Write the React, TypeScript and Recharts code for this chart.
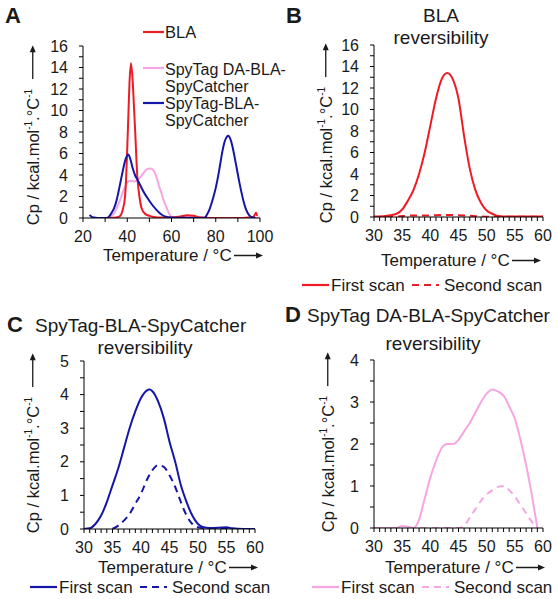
import React from "react";
import { LineChart, Line, XAxis, YAxis } from "recharts";

type Pt = [number, number];

const RED = "#ed1c24";
const PINK = "#f6a6e2";
const BLUE = "#1616a6";
const INK = "#1a1a1a";
const FONT = '"Liberation Sans", Arial, sans-serif';

// ---- Panel A: full DSC scans (temperature °C, Cp kcal/mol/°C)
const blaScan: Pt[] = [
  [30, 0], [34, 0.02], [36, 0.1], [37, 0.25], [38, 0.8], [39, 2], [39.5, 3.8], [40, 6.5],
  [40.5, 9.5], [41, 12.5], [41.7, 14.4], [42.5, 12.6], [43, 10.5], [43.6, 8], [44.5, 4],
  [45.5, 2], [46.5, 0.9], [48, 0.4], [50, 0.2], [52, 0.1], [55, 0.05], [60, 0.05],
  [64, 0.15], [67, 0.25], [70, 0.2], [73, 0.05], [80, 0], [90, 0], [95, 0.05], [97, 0.1],
  [98.2, 0.5], [98.7, 0.2],
];
const spyTagDaScan: Pt[] = [
  [30, 0], [32, 0.1], [34, 0.4], [35, 0.8], [36, 1.3], [37, 1.8], [38, 2.4], [39, 2.9],
  [40, 3.3], [41, 3.45], [42, 3.45], [43, 3.4], [44, 3.45], [45, 3.6], [46, 3.8], [47, 4.1],
  [48, 4.35], [49, 4.55], [50.3, 4.6], [51.5, 4.5], [52.5, 4.2], [53.5, 3.6], [54.5, 2.9],
  [55.5, 2.3], [56.5, 1.6], [57.5, 1.1], [58.5, 0.6], [59.5, 0.2], [61, 0.05], [65, 0.15],
  [70, 0.15], [75, 0.05], [80, 0], [90, 0], [100, 0.05],
];
const spyTagScan: Pt[] = [
  [23, 0.3], [24, 0.1], [25, 0.05], [28, 0], [31, 0], [32, 0.2], [33, 0.5], [34, 0.9],
  [35, 1.5], [36, 2.4], [37, 3.4], [38, 4.4], [39, 5.3], [40.5, 5.9], [41.5, 5.4], [42.5, 4.6],
  [43.5, 4.0], [44.5, 3.6], [46, 3.0], [47.5, 2.4], [49, 1.9], [51, 1.3], [53, 0.8], [55, 0.4],
  [57, 0.15], [60, 0.05], [65, 0.02], [70, 0], [75, 0.02], [76, 0.3], [77, 0.7], [78, 1.3],
  [79, 2.0], [80, 2.8], [81, 3.8], [82, 5.0], [83, 6.2], [84, 7.1], [85, 7.55], [85.7, 7.65],
  [86.5, 7.4], [87.5, 6.7], [88.5, 5.7], [89.5, 4.6], [90.5, 3.5], [91.5, 2.5], [92.5, 1.6],
  [93.5, 0.9], [94.5, 0.45], [96, 0.1], [98, 0],
];

// ---- Panel B: BLA reversibility
const blaFirst: Pt[] = [
  [30, 0.05], [32, 0.1], [34, 0.3], [35, 0.7], [36, 1.5], [37, 2.5], [38, 4], [39, 6],
  [40, 8.5], [41, 11], [42, 12.8], [43, 13.4], [44, 12.8], [45, 11], [46, 7.5], [47, 4.5],
  [48, 2.5], [49, 1.3], [50, 0.6], [51, 0.3], [52, 0.1], [54, 0.05], [60, 0.05],
];
const blaSecond: Pt[] = [
  [30, 0], [34, 0.05], [36, 0.12], [38, 0.15], [40, 0.15], [42, 0.18], [44, 0.18],
  [46, 0.15], [48, 0.08], [50, 0.03], [55, 0.02], [60, 0.02],
];

// ---- Panel C: SpyTag-BLA-SpyCatcher reversibility
const spyTagFirst: Pt[] = [
  [30, 0], [31, 0.02], [32, 0.15], [33, 0.4], [34, 0.8], [35, 1.3], [36, 1.8], [37, 2.4],
  [38, 3.0], [39, 3.5], [40, 3.9], [41, 4.12], [41.5, 4.15], [42, 4.1], [43, 3.8], [44, 3.3],
  [45, 2.6], [46, 2.0], [47, 1.3], [48, 0.8], [49, 0.4], [50, 0.15], [51, 0.05], [52, 0.03],
  [55, 0.05], [56, 0.02], [58, 0], [60, 0],
];
const spyTagSecond: Pt[] = [
  [35, 0], [36, 0.1], [37, 0.25], [38, 0.45], [39, 0.75], [40, 1.05], [41, 1.45], [42, 1.75],
  [43, 1.9], [44, 1.85], [45, 1.6], [46, 1.25], [47, 0.8], [48, 0.4], [49, 0.15], [50, 0.05],
  [52, 0.02], [56, 0.02],
];

// ---- Panel D: SpyTag DA-BLA-SpyCatcher reversibility
const spyTagDaFirst: Pt[] = [
  [30, 0], [34, 0], [35, 0.05], [36, 0.03], [37, 0], [38, 0.2], [39, 0.7], [40, 1.2],
  [41, 1.6], [42, 1.9], [43, 2.0], [44, 2.0], [45, 2.1], [46, 2.3], [47, 2.5], [48, 2.75],
  [49, 3.0], [50, 3.2], [51, 3.3], [52, 3.25], [53, 3.15], [54, 2.9], [55, 2.6], [56, 2.1],
  [57, 1.5], [58, 0.8], [58.5, 0.4], [59, 0],
];
const spyTagDaSecond: Pt[] = [
  [36, 0], [40, 0], [45, 0], [46, 0.05], [47, 0.25], [48, 0.45], [49, 0.65], [50, 0.8],
  [51, 0.9], [52, 0.98], [53, 1.0], [54, 0.9], [55, 0.75], [56, 0.55], [57, 0.35],
  [58, 0.15], [59, 0],
];

const range = (a: number, b: number, s: number) => {
  const out: number[] = [];
  for (let v = a; v <= b + 1e-9; v += s) out.push(Math.round(v * 100) / 100);
  return out;
};

const xTicksA = range(20, 100, 10);
const xMajorA = [20, 40, 60, 80, 100];
const xTicksRev = range(30, 60, 1);
const xMajorRev = [30, 35, 40, 45, 50, 55, 60];
const yTicks16 = range(0, 16, 1);
const yMajor16 = [0, 2, 4, 6, 8, 10, 12, 14, 16];
const yTicks5 = range(0, 5, 0.5);
const yMajor5 = [0, 1, 2, 3, 4, 5];
const yTicks4 = range(0, 4, 0.5);
const yMajor4 = [0, 1, 2, 3, 4];

type Series = { data: Pt[]; color: string; dashed?: boolean };

function xTick(major: number[]) {
  return (p: any) => {
    const v = p.payload.value;
    return (
      <g>
        <line x1={p.x} x2={p.x} y1={p.y} y2={p.y + 4} stroke="#000" strokeWidth={1} />
        {major.includes(v) && (
          <text x={p.x} y={p.y + 18} dy="0.35em" textAnchor="middle" fontSize={16} fill={INK} fontFamily={FONT}>
            {v}
          </text>
        )}
      </g>
    );
  };
}

function yTick(major: number[]) {
  return (p: any) => {
    const v = p.payload.value;
    return (
      <g>
        <line x1={p.x - 4} x2={p.x} y1={p.y} y2={p.y} stroke="#000" strokeWidth={1} />
        {major.includes(v) && (
          <text x={p.x - 15} y={p.y} dy="0.35em" textAnchor="end" fontSize={16} fill={INK} fontFamily={FONT}>
            {v}
          </text>
        )}
      </g>
    );
  };
}

function Panel(props: {
  x: number; y: number; w: number; h: number;
  xDomain: [number, number]; xTicks: number[]; xMajor: number[];
  yDomain: [number, number]; yTicks: number[]; yMajor: number[];
  series: Series[];
}) {
  const yw = 44, xh = 30, pad = 10, padR = 16;
  return (
    <div style={{ position: "absolute", left: props.x - yw, top: props.y - pad }}>
      <LineChart width={yw + props.w + padR} height={pad + props.h + xh} margin={{ top: pad, right: padR, bottom: 0, left: 0 }}>
        <XAxis
          type="number" dataKey="t" domain={props.xDomain} ticks={props.xTicks} interval={0}
          allowDataOverflow height={xh} tickSize={0} tickMargin={0} tickLine={false}
          axisLine={{ stroke: "#000", strokeWidth: 1 }} tick={xTick(props.xMajor)}
        />
        <YAxis
          type="number" domain={props.yDomain} ticks={props.yTicks} interval={0}
          allowDataOverflow width={yw} tickSize={0} tickMargin={0} tickLine={false}
          axisLine={{ stroke: "#000", strokeWidth: 1 }} tick={yTick(props.yMajor)}
        />
        {props.series.map((s, i) => (
          <Line
            key={i}
            data={s.data.map(([t, v]) => ({ t, v }))}
            dataKey="v"
            type="monotone"
            stroke={s.color}
            strokeWidth={2}
            strokeDasharray={s.dashed ? "7 5" : undefined}
            dot={false}
            activeDot={false}
            isAnimationActive={false}
          />
        ))}
      </LineChart>
    </div>
  );
}

function Arrow({ len }: { len: number }) {
  return (
    <svg width={len} height={10} style={{ display: "block" }}>
      <line x1={0} y1={5} x2={len - 5} y2={5} stroke={INK} strokeWidth={1.3} />
      <polygon points={`${len - 7},2 ${len},5 ${len - 7},8`} fill={INK} />
    </svg>
  );
}

function Txt({ x, y, size = 17, bold = false, anchor = "left", lh = 1, children }: any) {
  const tx = anchor === "center" ? "-50%" : "0";
  return (
    <div
      style={{
        position: "absolute", left: x, top: y, transform: `translate(${tx},-50%)`,
        fontSize: size, fontWeight: bold ? 700 : 400, whiteSpace: "nowrap", lineHeight: lh, color: INK,
      }}
    >
      {children}
    </div>
  );
}

const sup = { fontSize: 10, verticalAlign: "super", lineHeight: 0 } as const;

function YLabel({ x, y }: { x: number; y: number }) {
  return (
    <div
      style={{
        position: "absolute", left: x, top: y, transform: "translate(-50%,-50%) rotate(-90deg)",
        display: "flex", alignItems: "center", whiteSpace: "nowrap", fontSize: 16.5, lineHeight: 1, color: INK,
      }}
    >
      <span>
        Cp / kcal.mol<span style={sup}>-1</span>.°C<span style={sup}>-1</span>
      </span>
      <span style={{ marginLeft: 10 }}>
        <Arrow len={34} />
      </span>
    </div>
  );
}

function XLabel({ x, y }: { x: number; y: number }) {
  return (
    <div
      style={{
        position: "absolute", left: x, top: y, transform: "translateY(-50%)",
        display: "flex", alignItems: "center", whiteSpace: "nowrap", fontSize: 17, lineHeight: 1, color: INK,
      }}
    >
      <span>Temperature / °C</span>
      <span style={{ marginLeft: 2 }}>
        <Arrow len={29} />
      </span>
    </div>
  );
}

function Swatch({ x, y, color, w = 22, dashed = false }: any) {
  return (
    <svg style={{ position: "absolute", left: x, top: y - 2 }} width={w} height={4}>
      <line x1={0} y1={2} x2={w} y2={2} stroke={color} strokeWidth={2.2} strokeDasharray={dashed ? "7 5" : undefined} />
    </svg>
  );
}

function ScanLegend({ x, y, color }: { x: number; y: number; color: string }) {
  return (
    <>
      <Swatch x={x} y={y} color={color} w={27} />
      <Txt x={x + 29} y={y}>First scan</Txt>
      <Swatch x={x + 110} y={y} color={color} w={27} dashed />
      <Txt x={x + 142} y={y}>Second scan</Txt>
    </>
  );
}

export default function App() {
  return (
    <div
      style={{
        position: "absolute", left: 0, top: 0, width: 558, height: 599,
        background: "#fff", fontFamily: FONT, overflow: "hidden",
      }}
    >
      {/* Panel A */}
      <Panel
        x={83} y={46} w={177} h={172}
        xDomain={[20, 100]} xTicks={xTicksA} xMajor={xMajorA}
        yDomain={[0, 16]} yTicks={yTicks16} yMajor={yMajor16}
        series={[
          { data: spyTagDaScan, color: PINK },
          { data: blaScan, color: RED },
          { data: spyTagScan, color: BLUE },
        ]}
      />
      <Txt x={5} y={16} size={22} bold>A</Txt>
      <YLabel x={33} y={135} />
      <XLabel x={103} y={255} />
      <Swatch x={143} y={32} color={RED} w={21} />
      <Txt x={165} y={32} size={16.5}>BLA</Txt>
      <Swatch x={143} y={68} color={PINK} w={21} />
      <Txt x={165} y={70} size={16}>SpyTag DA-BLA-</Txt>
      <Txt x={165} y={87} size={16}>SpyCatcher</Txt>
      <Swatch x={143} y={103} color={BLUE} w={21} />
      <Txt x={165} y={104} size={16}>SpyTag-BLA-</Txt>
      <Txt x={165} y={121} size={16}>SpyCatcher</Txt>

      {/* Panel B */}
      <Panel
        x={374} y={45} w={169} h={172}
        xDomain={[30, 60]} xTicks={xTicksRev} xMajor={xMajorRev}
        yDomain={[0, 16]} yTicks={yTicks16} yMajor={yMajor16}
        series={[
          { data: blaSecond, color: RED, dashed: true },
          { data: blaFirst, color: RED },
        ]}
      />
      <Txt x={286} y={16} size={22} bold>B</Txt>
      <Txt x={441} y={15} size={19} anchor="center">BLA</Txt>
      <Txt x={441} y={37} size={19} anchor="center">reversibility</Txt>
      <YLabel x={326} y={133} />
      <XLabel x={381} y={260} />
      <ScanLegend x={302} y={285} color={RED} />

      {/* Panel C */}
      <Panel
        x={84} y={361} w={171} h={168}
        xDomain={[30, 60]} xTicks={xTicksRev} xMajor={xMajorRev}
        yDomain={[0, 5]} yTicks={yTicks5} yMajor={yMajor5}
        series={[
          { data: spyTagSecond, color: BLUE, dashed: true },
          { data: spyTagFirst, color: BLUE },
        ]}
      />
      <Txt x={7} y={325} size={22} bold>C</Txt>
      <Txt x={35} y={325} size={19}>SpyTag-BLA-SpyCatcher</Txt>
      <Txt x={145} y={347} size={19} anchor="center">reversibility</Txt>
      <YLabel x={33} y={443} />
      <XLabel x={98} y={567} />
      <ScanLegend x={30} y={587} color={BLUE} />

      {/* Panel D */}
      <Panel
        x={374} y={360} w={169} h={168}
        xDomain={[30, 60]} xTicks={xTicksRev} xMajor={xMajorRev}
        yDomain={[0, 4]} yTicks={yTicks4} yMajor={yMajor4}
        series={[
          { data: spyTagDaSecond, color: PINK, dashed: true },
          { data: spyTagDaFirst, color: PINK },
        ]}
      />
      <Txt x={285} y={315} size={22} bold>D</Txt>
      <Txt x={307} y={315} size={19}>SpyTag DA-BLA-SpyCatcher</Txt>
      <Txt x={433} y={343} size={19} anchor="center">reversibility</Txt>
      <YLabel x={328} y={442} />
      <XLabel x={385} y={567} />
      <ScanLegend x={312} y={587} color={PINK} />
    </div>
  );
}
